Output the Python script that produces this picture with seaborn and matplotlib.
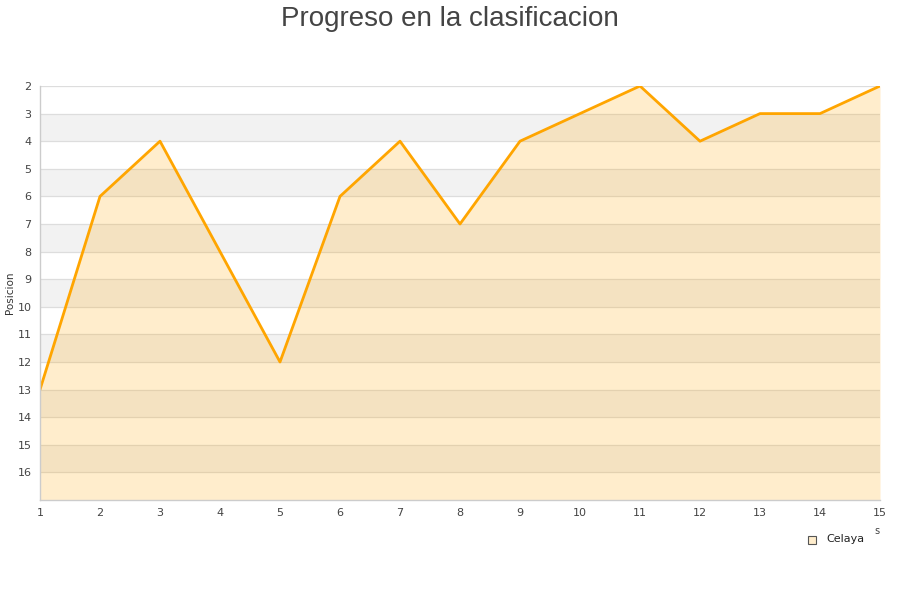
import pandas as pd
import seaborn as sns
import matplotlib.pyplot as plt

jornadas = list(range(1, 16))
posicion = [13, 6, 4, 8, 12, 6, 4, 7, 4, 3, 2, 4, 3, 3, 2]
equipo = "Celaya"
y_ticks = list(range(2, 17))

df = pd.DataFrame({"Jornada": jornadas, "Posicion": posicion})

sns.set_style("white")
plt.rcParams["font.family"] = ["DejaVu Sans"]

fig = plt.figure(figsize=(9, 6), dpi=100)
ax = fig.add_axes([40 / 900, 1 - 500 / 600, 840 / 900, 414 / 600])

# alternating bands
for y in range(3, 17, 2):
    ax.axhspan(y, y + 1, color="#f2f2f2", zorder=0, lw=0)
for y in y_ticks:
    ax.axhline(y, color="#dddddd", lw=0.9, zorder=0.5)

ax.fill_between(df["Jornada"], df["Posicion"], 17, color="#ffa500", alpha=0.2, lw=0, zorder=1)
sns.lineplot(data=df, x="Jornada", y="Posicion", color="#ffa500", lw=2, ax=ax, zorder=2)

ax.set_xlim(1, 15)
ax.set_ylim(17, 2)
ax.set_xticks(jornadas)
ax.set_yticks(y_ticks)
ax.tick_params(axis="both", labelsize=8, colors="#444444", length=0, pad=6)
ax.set_xlabel("")
ax.set_ylabel("Posicion", fontsize=7.5, color="#333333")
ax.yaxis.set_label_coords(-25 / 840, 0.5)

for s in ["top", "right"]:
    ax.spines[s].set_visible(False)
for s in ["left", "bottom"]:
    ax.spines[s].set_color("#cccccc")
    ax.spines[s].set_linewidth(1)

fig.suptitle("Progreso en la clasificacion", fontsize=20, color="#444444", y=0.99,
             family=["Liberation Sans", "DejaVu Sans"])

fig.text(874 / 900, 1 - 531 / 600, "s", fontsize=7, color="#444444", va="center")
fig.text(826 / 900, 1 - 539 / 600, equipo, fontsize=8, color="#222222", va="center")
fig.patches.append(plt.Rectangle((808 / 900, 1 - 544 / 600), 8 / 900, 8 / 600,
                                 transform=fig.transFigure,
                                 facecolor="#ffedcc", edgecolor="#555555", lw=0.8))

fig.savefig("out.png", dpi=100)
